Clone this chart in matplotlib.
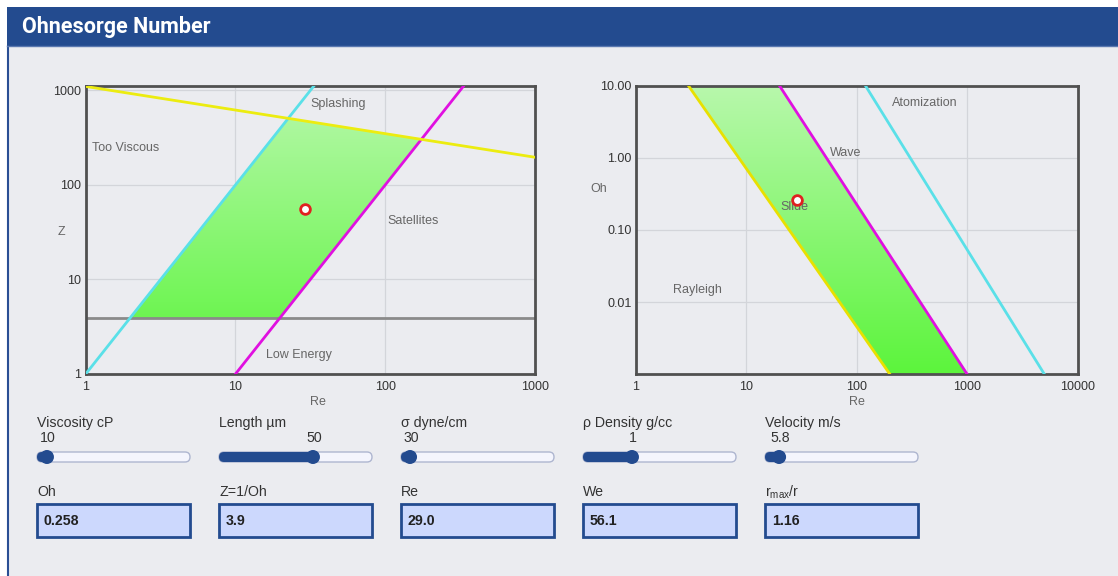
import numpy as np
import matplotlib.pyplot as plt
from matplotlib.patches import Rectangle, FancyBboxPatch, Circle, Polygon
from matplotlib.colors import LinearSegmentedColormap

plt.rcParams['font.family'] = ['Liberation Sans', 'DejaVu Sans']
plt.rcParams['mathtext.fontset'] = 'custom'
plt.rcParams['mathtext.rm'] = 'Liberation Sans'

W, H = 1118, 576

# left chart: Z vs Re (line end points)
cyan_re = [1, 33.5]
cyan_z = [1, 1120]
mag_re = [10, 335]
mag_z = [1, 1120]
yel_re = [1, 1000]
yel_z = [1100, 196]
z_now = 3.9
green_re = [1.97, 19.7, 174, 22.4]
green_z = [3.9, 3.9, 302, 502]
point_re = 29.0
point_z = 56.1

# right chart: Oh vs Re
r_yel_re = [3, 200]
r_yel_oh = [10, 0.001]
r_mag_re = [20, 1000]
r_mag_oh = [10, 0.001]
r_cyan_re = [120, 5000]
r_cyan_oh = [10, 0.001]
r_green_re = [3, 20, 1000, 200]
r_green_oh = [10, 10, 0.001, 0.001]
point_oh = 0.258

slider_names = ['Viscosity cP', 'Length µm', 'σ dyne/cm', 'ρ Density g/cc', 'Velocity m/s']
slider_vals = ['10', '50', '30', '1', '5.8']
slider_frac = [0.065, 0.614, 0.059, 0.32, 0.092]
box_names = ['Oh', 'Z=1/Oh', 'Re', 'We', r'r$_{\mathrm{max}}$/r']
box_vals = ['0.258', '3.9', '29.0', '56.1', '1.16']

BLUE = '#234b8f'
PANEL = '#ebecf0'
TXT = '#666666'

fig = plt.figure(figsize=(W / 100, H / 100), dpi=100, facecolor='white')

# background / widgets layer in pixel coordinates
bg = fig.add_axes([0, 0, 1, 1], zorder=0)
bg.set_xlim(0, W)
bg.set_ylim(H, 0)
bg.axis('off')
bg.add_patch(Rectangle((7, 46), W - 7, H - 46, fc=PANEL, ec='none'))
bg.plot([7.5, 7.5], [46, H], color='#2a4f94', lw=1.5)
bg.add_patch(Rectangle((7, 7), W - 7, 39, fc=BLUE, ec='none'))
bg.plot([7, W], [45.5, 45.5], color='#5a78b0', lw=1)
bg.text(22, 27, 'Ohnesorge Number', color='white', fontsize=15.5, fontweight='bold',
        family=['Roboto', 'DejaVu Sans'], va='center', ha='left')

grad_cmap = LinearSegmentedColormap.from_list('g', ['#5cf43c', '#b8f8ac'])


def px_axes(l, t, r, b):
    return fig.add_axes([l / W, 1 - b / H, (r - l) / W, (b - t) / H], zorder=1)


def setup(ax, xlim, ylim, xt, xtl, yt, ytl):
    ax.set_facecolor(PANEL)
    ax.set_xscale('log')
    ax.set_yscale('log')
    ax.set_autoscale_on(False)
    ax.set_xlim(*xlim)
    ax.set_ylim(*ylim)
    ax.set_xticks(xt)
    ax.set_xticklabels(xtl)
    ax.set_yticks(yt)
    ax.set_yticklabels(ytl)
    ax.minorticks_off()
    ax.grid(True, color='#d3d5da', lw=0.9)
    ax.set_axisbelow(True)
    ax.tick_params(length=0, labelsize=9, labelcolor='#333333')
    ax.tick_params(axis='x', pad=5)
    ax.tick_params(axis='y', pad=3)
    for s in ax.spines.values():
        s.set_color('#505050')
        s.set_linewidth(2)


def gradient(ax, xs, ys):
    poly = Polygon(list(zip(xs, ys)), closed=True, fc='none', ec='none', transform=ax.transData)
    ax.add_patch(poly)
    im = ax.imshow(np.linspace(0, 1, 256).reshape(-1, 1), cmap=grad_cmap, aspect='auto',
                   extent=[0, 1, 0, 1], origin='lower', transform=ax.transAxes, zorder=1)
    im.set_clip_path(poly)


# ---- left chart
ax1 = px_axes(85.7, 85.7, 535, 374)
setup(ax1, (1, 1000), (1, 1120), [1, 10, 100, 1000], ['1', '10', '100', '1000'],
      [1, 10, 100, 1000], ['1', '10', '100', '1000'])
gradient(ax1, green_re, green_z)
ax1.plot([1, 1000], [z_now, z_now], color='#8a8a8a', lw=2, zorder=2)
ax1.plot(cyan_re, cyan_z, color='#5ae0e8', lw=2, zorder=3)
ax1.plot(mag_re, mag_z, color='#e010e0', lw=2, zorder=3)
ax1.plot(yel_re, yel_z, color='#ecec10', lw=2, zorder=3)
ax1.plot([point_re], [point_z], 'o', ms=7, mfc='white', mec='#e02020', mew=2, zorder=5)
ax1.text(48.3, 723, 'Splashing', fontsize=9, color=TXT, ha='center', va='center')
ax1.text(1.1, 247, 'Too Viscous', fontsize=9, color=TXT, ha='left', va='center')
ax1.text(153, 41.4, 'Satellites', fontsize=9, color=TXT, ha='center', va='center')
ax1.text(26.5, 1.6, 'Low Energy', fontsize=9, color=TXT, ha='center', va='center')

# ---- right chart
ax2 = px_axes(635.7, 85.7, 1077.7, 374.3)
setup(ax2, (1, 10000), (0.001, 10), [1, 10, 100, 1000, 10000], ['1', '10', '100', '1000', '10000'],
      [0.01, 0.1, 1, 10], ['0.01', '0.10', '1.00', '10.00'])
gradient(ax2, r_green_re, r_green_oh)
ax2.plot(r_yel_re, r_yel_oh, color='#e8e000', lw=2, zorder=3)
ax2.plot(r_mag_re, r_mag_oh, color='#e010e0', lw=2, zorder=3)
ax2.plot(r_cyan_re, r_cyan_oh, color='#5ae0e8', lw=2, zorder=3)
ax2.text(415, 5.75, 'Atomization', fontsize=9, color=TXT, ha='center', va='center')
ax2.text(79.8, 1.17, 'Wave', fontsize=9, color=TXT, ha='center', va='center')
ax2.text(27.5, 0.208, 'Slide', fontsize=9, color=TXT, ha='center', va='center', zorder=4)
ax2.text(3.59, 0.0147, 'Rayleigh', fontsize=9, color=TXT, ha='center', va='center')
ax2.plot([point_re], [point_oh], 'o', ms=7, mfc='white', mec='#e02020', mew=2, zorder=5)

# axis titles
bg.text(318, 402, 'Re', fontsize=9, color=TXT, ha='center', va='center')
bg.text(857, 402, 'Re', fontsize=9, color=TXT, ha='center', va='center')
bg.text(61, 232, 'Z', fontsize=9, color=TXT, ha='center', va='center')
bg.text(599, 189, 'Oh', fontsize=9, color=TXT, ha='center', va='center')

# ---- sliders and output boxes
col_x = [37, 219, 401, 583, 765]
tw = 153
for i, x0 in enumerate(col_x):
    kx = x0 + slider_frac[i] * tw
    bg.text(x0, 423, slider_names[i], fontsize=10.2, color='#333333', ha='left', va='center')
    bg.text(kx + 1, 438, slider_vals[i], fontsize=10.2, color='#333333', ha='center', va='center')
    bg.add_patch(FancyBboxPatch((x0, 452), tw, 10, boxstyle='round,pad=0,rounding_size=5',
                                fc='#f4f5fd', ec='#aeb6d0', lw=1))
    bg.add_patch(FancyBboxPatch((x0, 452), kx - x0, 10, boxstyle='round,pad=0,rounding_size=5',
                                fc=BLUE, ec='none'))
    bg.add_patch(Circle((kx, 457), 7, fc=BLUE, ec='none'))

    bg.text(x0, 492, box_names[i], fontsize=10.2, color='#333333', ha='left', va='center')
    bg.add_patch(Rectangle((x0, 504), tw, 33, fc='#ccd8fd', ec=BLUE, lw=2))
    bg.text(x0 + 7, 521, box_vals[i], fontsize=10.2, fontweight='bold', color='#222222',
            ha='left', va='center')

fig.savefig('out.png', dpi=100, facecolor='white')
